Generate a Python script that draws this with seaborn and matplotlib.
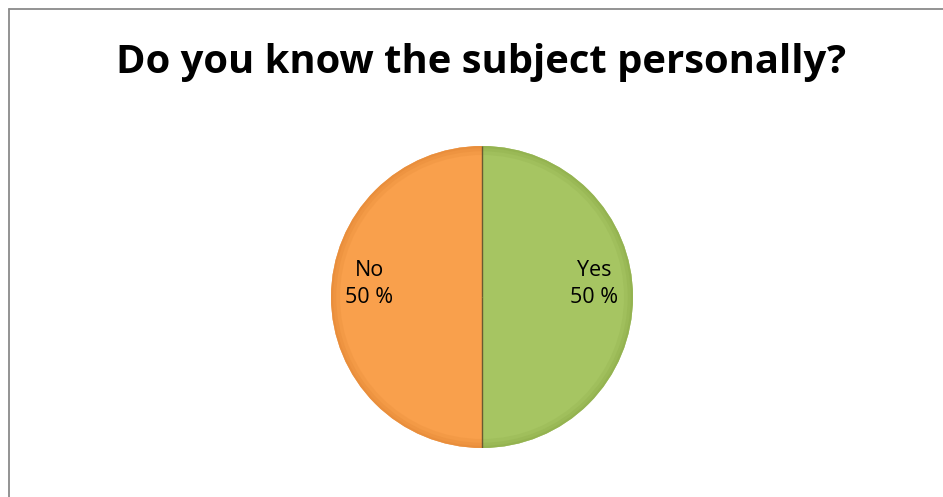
import matplotlib
matplotlib.use("Agg")
import matplotlib.pyplot as plt
import seaborn as sns
import numpy as np
from matplotlib.lines import Line2D

# Survey answers
answers = ["Yes", "No"]
shares = [50, 50]
colors = ["#A6C562", "#F9A04C"]
rim_colors = ["#8FAE4C", "#E58A38"]
title = "Do you know the subject personally?"

sns.set_theme(style="white")
plt.rcParams["font.family"] = ["Open Sans", "DejaVu Sans"]

W, H = 943, 497
fig = plt.figure(figsize=(W / 100, H / 100), dpi=100)
fig.patch.set_facecolor("white")

# pie axes: centre ~ (482, 297) px, radius ~150 px
R = 151
cx, cy = 482, 297
ax = fig.add_axes([(cx - R) / W, (H - cy - R) / H, 2 * R / W, 2 * R / H])

wedges, _ = ax.pie(
    shares,
    colors=colors,
    startangle=90,
    counterclock=False,
    radius=1.0,
    wedgeprops=dict(edgecolor="none", linewidth=0),
)
# soft bevelled rim
for k, a in zip([0.06, 0.035, 0.015], [0.25, 0.35, 0.5]):
    ax.pie(shares, colors=rim_colors, startangle=90, counterclock=False,
           radius=1.0, wedgeprops=dict(width=k, edgecolor="none", alpha=a))

# dark divider lines between slices
for w in wedges:
    ang = np.deg2rad(w.theta1)
    ax.plot([0, np.cos(ang)], [0, np.sin(ang)], color="#6a5a30", linewidth=1.0,
            solid_capstyle="butt")

ax.set_xlim(-1.0, 1.0)
ax.set_ylim(-1.0, 1.0)
ax.set_aspect("equal")
ax.axis("off")

# value labels inside each slice
for w, name, val in zip(wedges, answers, shares):
    ang = np.deg2rad((w.theta1 + w.theta2) / 2)
    x = 0.745 * np.cos(ang)
    y = 0.745 * np.sin(ang) + 0.085
    ax.text(x, y, f"{name}\n{val} %", ha="center", va="center",
            fontsize=15.5, color="black", linespacing=1.35)

fig.text(481 / W, 1 - 63 / H, title, ha="center", va="center",
         fontsize=28.8, fontweight="bold", color="black")

# frame: left and top edges only
fig.add_artist(Line2D([8.5 / W, 8.5 / W], [0, 1 - 8.5 / H], transform=fig.transFigure,
                      color="#8a8a8a", linewidth=1.3))
fig.add_artist(Line2D([8.5 / W, 1], [1 - 8.5 / H, 1 - 8.5 / H], transform=fig.transFigure,
                      color="#8a8a8a", linewidth=1.3))

fig.savefig("out.png", dpi=100, facecolor="white")
